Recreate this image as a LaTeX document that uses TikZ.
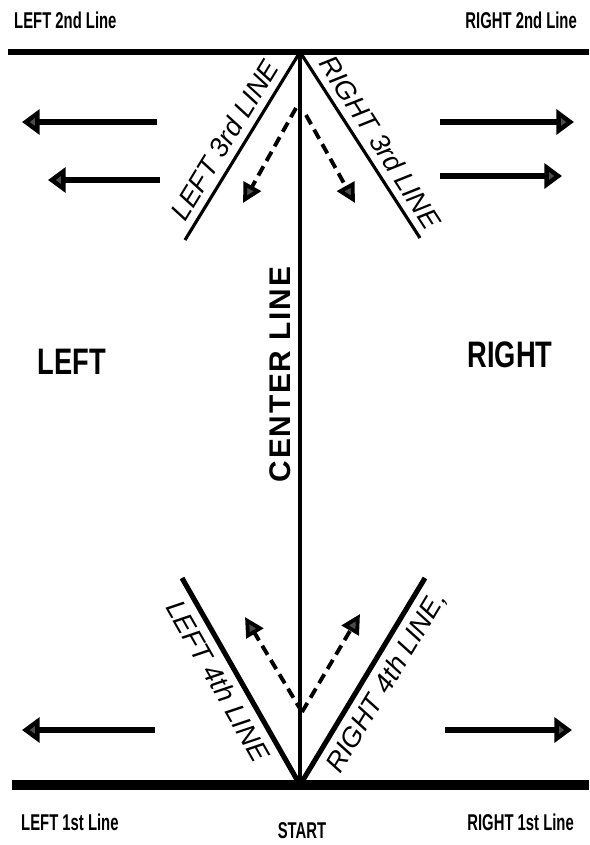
\documentclass[tikz,border=0pt]{standalone}
\usepackage{fontspec}
\setmainfont{Liberation Sans}
\newfontfamily\narrowfont[FakeStretch=0.74]{Liberation Sans}
\newfontfamily\tightfont[FakeStretch=0.65]{Liberation Sans}
\newfontfamily\spacedfont[LetterSpace=6]{Liberation Sans}
\usetikzlibrary{arrows.meta}

\begin{document}
\begin{tikzpicture}[
  x=0.02cm, y=-0.02cm,
  endline/.style={line width=3.4pt},
  startline/.style={line width=6.2pt},
  midline/.style={line width=1.8pt},
  thirdline/.style={line width=1.8pt},
  fourthline/.style={line width=2.9pt},
  runarrow/.style={line width=3.4pt,-{Triangle[length=10pt,width=14pt,fill=black!70]}},
  turnarrow/.style={line width=2.2pt,dash pattern=on 6pt off 3.5pt,-{Triangle[length=11pt,width=11pt,fill=black!70]}},
  sidelabel/.style={font=\tightfont\bfseries\fontsize{13}{15}\selectfont},
  zonelabel/.style={font=\narrowfont\bfseries\fontsize{21}{25}\selectfont},
  linelabel/.style={font=\itshape\fontsize{15.5}{18}\selectfont,sloped,inner sep=4pt},
]
\useasboundingbox[fill=white] (0,0) rectangle (589,845);

% field points
\coordinate (topL)  at (8,52);
\coordinate (topR)  at (589,52);
\coordinate (topC)  at (300,52);
\coordinate (botL)  at (12,785);
\coordinate (botR)  at (589,785);
\coordinate (botC)  at (300,785);
\coordinate (thirdL) at (185,240);
\coordinate (thirdR) at (420,238);
\coordinate (fourthL) at (182,578);
\coordinate (fourthR) at (425,578);

% lines
\draw[endline] (topL) -- (topR);
\draw[startline] (botL) -- (botR);
\draw[midline] (topC) -- (botC) node[pos=0.44,left=1pt,rotate=90,anchor=south,font=\spacedfont\bfseries\fontsize{17}{20}\selectfont] (center) {CENTER LINE};
\draw[thirdline] (thirdL) -- node[linelabel,above,pos=0.48] (l3) {LEFT 3rd LINE} (topC);
\draw[thirdline] (topC) -- node[linelabel,above,pos=0.54] (r3) {RIGHT 3rd LINE} (thirdR);
\draw[fourthline] (fourthL) -- node[linelabel,below,pos=0.45] (l4) {LEFT 4th LINE} (botC);
\draw[fourthline] (botC) -- node[linelabel,below,pos=0.55] (r4) {RIGHT 4th LINE,} (fourthR);

% run arrows
\coordinate (la1s) at (157,122); \coordinate (la1e) at (22,122);
\coordinate (la2s) at (160,180); \coordinate (la2e) at (48,180);
\coordinate (ra1s) at (440,122); \coordinate (ra1e) at (574,122);
\coordinate (ra2s) at (440,176); \coordinate (ra2e) at (562,176);
\coordinate (la3s) at (155,730); \coordinate (la3e) at (22,730);
\coordinate (ra3s) at (445,730); \coordinate (ra3e) at (572,730);
\draw[runarrow] (la1s) -- (la1e);
\draw[runarrow] (la2s) -- (la2e);
\draw[runarrow] (ra1s) -- (ra1e);
\draw[runarrow] (ra2s) -- (ra2e);
\draw[runarrow] (la3s) -- (la3e);
\draw[runarrow] (ra3s) -- (ra3e);

% turn arrows
\coordinate (tl) at (296,108); \coordinate (tle) at (243,203);
\coordinate (tr) at (306,115); \coordinate (tre) at (355,203);
\coordinate (bc) at (302,712);
\coordinate (ble) at (245,617); \coordinate (bre) at (360,614);
\draw[turnarrow] (tl) -- (tle);
\draw[turnarrow] (tr) -- (tre);
\draw[turnarrow] (bc) -- (ble);
\draw[turnarrow] (bc) -- (bre);

% texts
\node[sidelabel,anchor=west] (l2) at (8,20) {LEFT 2nd Line};
\node[sidelabel,anchor=east] (r2) at (583,20) {RIGHT 2nd Line};
\node[sidelabel,anchor=west] (l1) at (15,822) {LEFT 1st Line};
\node[sidelabel,anchor=east] (r1) at (580,822) {RIGHT 1st Line};
\node[sidelabel] (start) at (302,831) {START};
\node[zonelabel] (left) at (72,362) {LEFT};
\node[zonelabel] (right) at (510,355) {RIGHT};
\end{tikzpicture}
\end{document}
